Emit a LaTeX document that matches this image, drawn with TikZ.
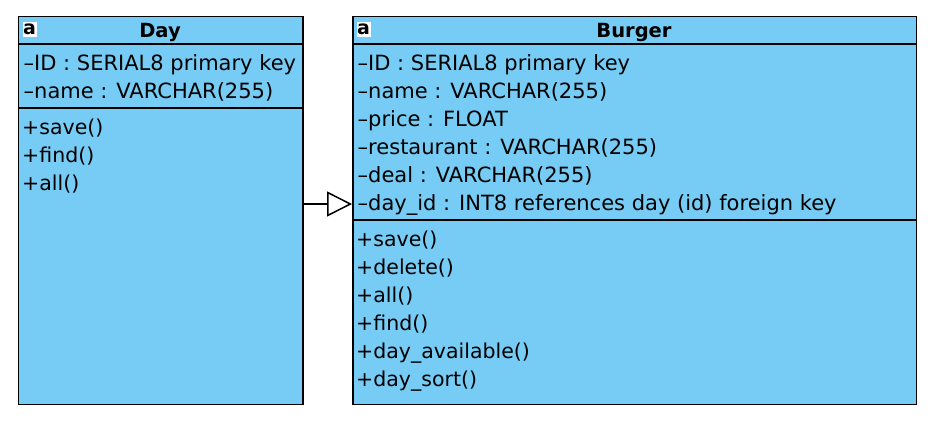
\documentclass[tikz,border=0pt]{standalone}
\usepackage{fontspec}
\setmainfont{DejaVu Sans}
\usetikzlibrary{arrows.meta}
\definecolor{umlblue}{HTML}{76CCF4}
\tikzset{
  x=1pt,y=-1pt,
  umlbox/.style={draw=black,fill=umlblue,line width=1.5pt,minimum width=#1,minimum height=388pt,inner sep=0pt,anchor=north west},
  rowtext/.style={anchor=base west,inner sep=0pt,font=\fontsize{21}{24}\selectfont,text=black},
  methodtext/.style={anchor=base west,inner sep=0pt,font=\fontsize{20.5}{24}\selectfont,text=black},
  titletext/.style={anchor=base,inner sep=0pt,font=\fontsize{19.5}{22}\selectfont\bfseries,text=black},
  icon/.style={fill=white,inner sep=0pt,minimum width=14pt,minimum height=15pt,font=\fontsize{19}{19}\selectfont\bfseries,text=black},
  divider/.style={draw=black,line width=1.5pt},
  inherit/.style={draw=black,line width=1.5pt,-{Triangle[open,fill=white,length=25pt,width=25pt,line width=1.5pt]}}
}
\newcommand{\rowAt}[4]{\node[rowtext] (#1) at (#2,#3) {#4};}
\newcommand{\methodAt}[4]{\node[methodtext] (#1) at (#2,#3) {#4};}
\begin{document}
\begin{tikzpicture}
\useasboundingbox (0,0) rectangle (936,424);
\node[umlbox=284.5pt] (day) at (17.5,15.5) {};
\node[umlbox=563.5pt] (burger) at (352,15.5) {};
\draw[divider] (day.west |- 0,44) -- (day.east |- 0,44);
\draw[divider] (day.west |- 0,108) -- (day.east |- 0,108);
\draw[divider] (burger.west |- 0,44) -- (burger.east |- 0,44);
\draw[divider] (burger.west |- 0,220) -- (burger.east |- 0,220);
\node[icon] (dayicon) at (29.5,29) {a};
\node[icon] (burgericon) at (363.5,29) {a};
\node[titletext] (daytitle) at (160,37) {Day};
\node[titletext] (burgertitle) at (634,37) {Burger};
\rowAt{d1}{23.5}{70}{–ID : SERIAL8 primary key}
\rowAt{d2}{23.5}{98}{–name : VARCHAR(255)}
\methodAt{d3}{22}{134}{+save()}
\methodAt{d4}{22}{162}{+find()}
\methodAt{d5}{22}{190}{+all()}
\rowAt{b1}{357.5}{70}{–ID : SERIAL8 primary key}
\rowAt{b2}{357.5}{98}{–name : VARCHAR(255)}
\rowAt{b3}{357.5}{126}{–price : FLOAT}
\rowAt{b4}{357.5}{154}{–restaurant : VARCHAR(255)}
\rowAt{b5}{357.5}{182}{–deal : VARCHAR(255)}
\rowAt{b6}{357.5}{210}{–day\_id : INT8 references day (id) foreign key}
\methodAt{b7}{356}{246}{+save()}
\methodAt{b8}{356}{274}{+delete()}
\methodAt{b9}{356}{302}{+all()}
\methodAt{b10}{356}{330}{+find()}
\methodAt{b11}{356}{358}{+day\_available()}
\methodAt{b12}{356}{386}{+day\_sort()}
\coordinate (from) at (304,204);
\draw[inherit] (from) -- (from -| burger.west);
\end{tikzpicture}
\end{document}
